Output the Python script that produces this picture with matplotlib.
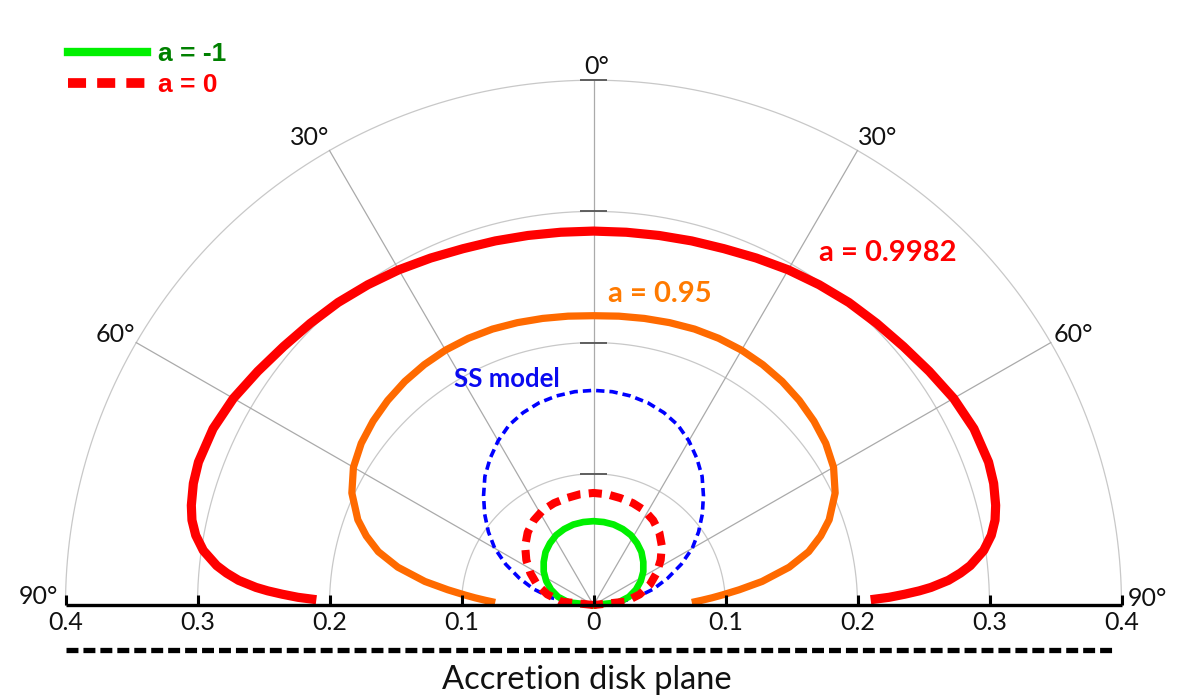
import numpy as np
import matplotlib
matplotlib.use('Agg')
import matplotlib.pyplot as plt
from matplotlib.lines import Line2D

plt.rcParams['lines.scale_dashes'] = False
plt.rcParams['font.family'] = ['Lato', 'DejaVu Sans']

# emission angle from the disk axis (deg) and intensity
ang_0998 = [0, 5, 10, 15, 20, 25, 30, 35, 40, 45, 50, 55, 60, 65, 70, 73, 76, 78, 80,
            82, 84, 85, 86, 87, 87.5, 88, 88.5, 88.9]
r_0998 = [0.2850, 0.2852, 0.2860, 0.2873, 0.2890, 0.2918, 0.2950, 0.2980, 0.3010, 0.3035,
          0.3065, 0.3105, 0.3150, 0.3180, 0.3185, 0.3170, 0.3140, 0.3110, 0.3060,
          0.2985, 0.2870, 0.2790, 0.2695, 0.2560, 0.2470, 0.2360, 0.2240, 0.2100]

ang_095 = [0, 5, 10, 15, 20, 25, 30, 35, 40, 45, 50, 55, 60, 65, 70, 73, 76, 79, 82, 84,
           85.5, 86.5, 87.5, 88.5]
r_095 = [0.2205, 0.2210, 0.2218, 0.2228, 0.2238, 0.2243, 0.2243, 0.2236, 0.2224, 0.2205,
         0.2180, 0.2148, 0.2100, 0.2020, 0.1900, 0.1800, 0.1680, 0.1510, 0.1290, 0.1110,
         0.0980, 0.0900, 0.0820, 0.0745]

ang_ss = [0, 5, 10, 15, 20, 25, 30, 35, 40, 45, 50, 55, 60, 65, 70, 75, 80, 85, 90]
r_ss = [0.1636, 0.1632, 0.1618, 0.1595, 0.1560, 0.1513, 0.1445, 0.1365, 0.1280, 0.1178,
        0.1076, 0.0972, 0.0864, 0.0733, 0.0598, 0.0470, 0.0329, 0.0172, 0.0]

ang_a0 = [0, 7, 14, 21, 28, 35, 42, 49, 56, 63, 70, 77, 84, 90]
r_a0 = [0.0854, 0.0850, 0.0840, 0.0832, 0.0818, 0.0788, 0.0745, 0.0686, 0.0614, 0.0537,
        0.0455, 0.0359, 0.0243, 0.0]

ang_am1 = [0, 7, 14, 21, 28, 35, 42, 49, 56, 63, 70, 77, 84, 90]
r_am1 = [0.0639, 0.0637, 0.0632, 0.0620, 0.0603, 0.0575, 0.0543, 0.0500, 0.0455, 0.0402,
         0.0342, 0.0275, 0.0189, 0.0]

grid_r = [0.1, 0.2, 0.3, 0.4]
spoke_deg = [-60, -30, 0, 30, 60]
axis_ticks = [-0.4, -0.3, -0.2, -0.1, 0, 0.1, 0.2, 0.3, 0.4]
axis_labels = ['0.4', '0.3', '0.2', '0.1', '0', '0.1', '0.2', '0.3', '0.4']


def both_sides(ang, r):
    ang = np.asarray(ang, float)
    r = np.asarray(r, float)
    a = np.radians(np.concatenate([-ang[::-1], ang[1:]]))
    rr = np.concatenate([r[::-1], r[1:]])
    return rr * np.sin(a), rr * np.cos(a)


fig = plt.figure(figsize=(12, 6.95), dpi=100)
ax = fig.add_axes([0, 0, 1, 1])
ax.set_axis_off()
ax.set_xlim(-593.5 / 1320, (1200 - 593.5) / 1320)
ax.set_ylim(-(695 - 605) / 1312, 605 / 1312)

# polar grid
t = np.radians(np.linspace(-90, 90, 361))
for g in grid_r:
    ax.plot(g * np.sin(t), g * np.cos(t), color='#c8c8c8', lw=0.9, zorder=1)
for s in spoke_deg:
    a = np.radians(s)
    ax.plot([0, 0.4 * np.sin(a)], [0, 0.4 * np.cos(a)], color='#aaaaaa', lw=0.9, zorder=1)
ax.hlines(grid_r, -0.0102, 0.0102, color='#555555', lw=1.3, zorder=2)

# disk axis with ticks
ax.plot([axis_ticks[0], axis_ticks[-1]], [0, 0], color='black', lw=2.4,
        solid_capstyle='butt', zorder=6)
ax.vlines(axis_ticks, 0, 10 / 1312, color='black', lw=2.2, zorder=6)
for x, lab in zip(axis_ticks, axis_labels):
    ax.text(x, -0.0135, lab, ha='center', va='center', fontsize=18, color='#111111')

ang_txt = [(0.0027, 0.4108, '0°'), (-0.2148, 0.3567, '30°'), (0.2155, 0.3567, '30°'),
           (-0.3625, 0.2058, '60°'), (0.3633, 0.2058, '60°'),
           (-0.4208, 0.0061, '90°'), (0.4193, 0.0053, '90°')]
for x, y, s in ang_txt:
    ax.text(x, y, s, ha='center', va='center', fontsize=18, color='#111111')

# curves
x, y = both_sides(ang_095, r_095)
ax.plot(x, y, color='#ff6a00', lw=5.2, solid_capstyle='butt', zorder=3)
x, y = both_sides(ang_0998, r_0998)
ax.plot(x, y, color='#ff0000', lw=6.6, solid_capstyle='butt', zorder=3)
x, y = both_sides(ang_ss, r_ss)
ax.plot(x, y, color='#0000ff', lw=2.6, dashes=(6, 3.6), zorder=4)
x, y = both_sides(ang_am1, r_am1)
ax.plot(x, y, color='#00f000', lw=4.8, zorder=4)
x, y = both_sides(ang_a0, r_a0)
ax.plot(x, y, color='#ff0000', lw=5.8, dashes=(9.5, 6), zorder=5)

ax.text(0.2231, 0.2683, 'a = 0.9982', color='#ff0000', fontsize=21, fontweight='bold',
        ha='center', va='center')
ax.text(0.0504, 0.237, 'a = 0.95', color='#ff7a00', fontsize=21, fontweight='bold',
        ha='center', va='center')
ax.text(-0.0655, 0.1723, 'SS model', color='#0a0af0', fontsize=18.5, fontweight='bold',
        ha='center', va='center')

# accretion disk plane
ax.plot([-0.4, 0.394], [-0.0343, -0.0343], color='black', lw=3.8, dashes=(8.6, 3.6),
        dash_capstyle='butt')
ax.text(-0.005, -0.057, 'Accretion disk plane', ha='center', va='center', fontsize=23.5,
        color='#111111')

# legend
handles = [Line2D([], [], color='#00f000', lw=6),
           Line2D([], [], color='#ff0000', lw=7, dashes=(13, 8))]
leg = ax.legend(handles, ['a = -1', 'a = 0'], loc='upper left',
                bbox_to_anchor=(68 / 1200, 1 - 42 / 695), borderaxespad=0, borderpad=0,
                frameon=False, handlelength=3.0, handletextpad=0.42, labelspacing=0.26,
                prop={'family': 'Liberation Sans', 'weight': 'bold', 'size': 19})
for txt, c in zip(leg.get_texts(), ['#008000', '#ff0000']):
    txt.set_color(c)

fig.savefig('out.png', dpi=100)
